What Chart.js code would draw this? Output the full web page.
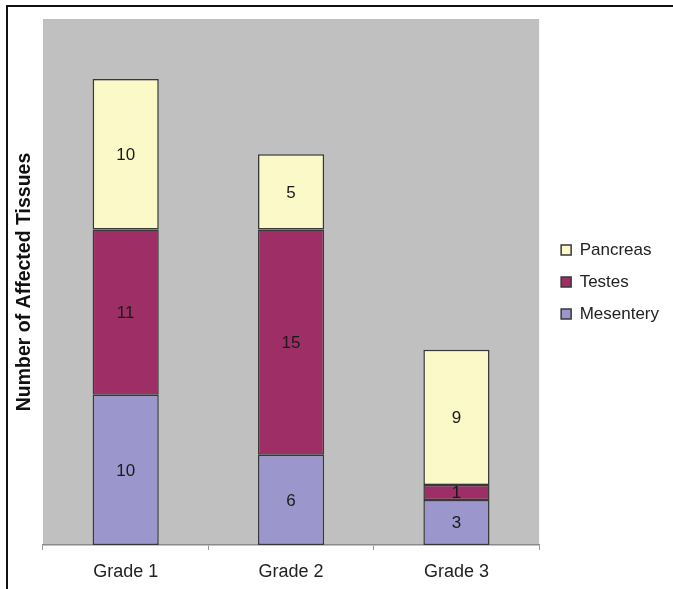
<!DOCTYPE html>
<html lang="en">
<head>
    <meta charset="UTF-8">
    <title>Number of Affected Tissues</title>
    <script src="https://cdn.jsdelivr.net/npm/chart.js"></script>
    <style>
        body {
            margin: 0;
            padding: 0;
            background: #fff;
        }
        .frame {
            position: absolute;
            left: 6px;
            top: 5px;
            width: 667px;
            height: 584px;
            border-left: 2px solid #111;
            border-top: 2px solid #111;
            box-sizing: border-box;
            pointer-events: none;
        }
        .wrap {
            position: relative;
            width: 673px;
            height: 589px;
        }
    </style>
</head>
<body>
    <div class="wrap">
        <canvas id="chart"></canvas>
        <div class="frame"></div>
    </div>

    <script>
        const grades = ['Grade 1', 'Grade 2', 'Grade 3'];
        const mesentery = [10, 6, 3];
        const testes = [11, 15, 1];
        const pancreas = [10, 5, 9];

        const fontFamily = "'Liberation Sans', Arial, sans-serif";

        // gray plot background
        const plotBg = {
            id: 'plotBg',
            beforeDraw(chart) {
                const a = chart.chartArea;
                const ctx = chart.ctx;
                ctx.save();
                ctx.fillStyle = '#c0c0c0';
                ctx.fillRect(a.left, a.top, a.right - a.left, a.bottom - a.top);
                ctx.restore();
            }
        };

        // numbers inside each segment
        const segLabels = {
            id: 'segLabels',
            afterDatasetsDraw(chart) {
                const ctx = chart.ctx;
                ctx.save();
                ctx.font = '17px ' + fontFamily;
                ctx.fillStyle = '#1a1a1a';
                ctx.textAlign = 'center';
                ctx.textBaseline = 'middle';
                chart.data.datasets.forEach((ds, i) => {
                    chart.getDatasetMeta(i).data.forEach((bar, j) => {
                        const y = (bar.y + bar.base) / 2;
                        ctx.fillText(String(ds.data[j]), bar.x, y + 1);
                    });
                });
                ctx.restore();
            }
        };

        new Chart(document.getElementById('chart'), {
            type: 'bar',
            data: {
                labels: grades,
                datasets: [
                    { label: 'Mesentery', data: mesentery, backgroundColor: '#9b97cc' },
                    { label: 'Testes', data: testes, backgroundColor: '#9e2f66' },
                    { label: 'Pancreas', data: pancreas, backgroundColor: '#fbf9c8' }
                ].map(d => Object.assign(d, {
                    borderColor: '#383838',
                    borderWidth: 1.5,
                    borderSkipped: false,
                    barPercentage: 0.4,
                    categoryPercentage: 1
                }))
            },
            options: {
                responsive: true,
                maintainAspectRatio: false,
                animation: false,
                layout: { padding: { left: 8, top: 19, bottom: 0, right: 4 } },
                plugins: {
                    tooltip: { enabled: false },
                    legend: {
                        position: 'right',
                        fullSize: false,
                        maxWidth: 127,
                        reverse: true,
                        labels: {
                            boxWidth: 10,
                            boxHeight: 10,
                            padding: 15,
                            color: '#222',
                            font: { family: fontFamily, size: 17 }
                        }
                    }
                },
                scales: {
                    x: {
                        stacked: true,
                        afterFit: (s) => { s.height = 44; },
                        grid: {
                            drawOnChartArea: false,
                            tickLength: 5,
                            color: '#999'
                        },
                        border: { color: '#8a8a8a', width: 1.5 },
                        ticks: {
                            padding: 11,
                            color: '#222',
                            font: { family: fontFamily, size: 18 }
                        }
                    },
                    y: {
                        stacked: true,
                        min: 0,
                        max: 35,
                        afterFit: (s) => { s.width = 35; },
                        grid: { display: false },
                        border: { display: false },
                        ticks: { display: false },
                        title: {
                            display: true,
                            text: 'Number of Affected Tissues',
                            color: '#111',
                            padding: { top: 5, bottom: 4 },
                            font: { family: fontFamily, size: 19.5, weight: 'bold' }
                        }
                    },
                    // empty spacer between the plot and the legend
                    gap: {
                        type: 'linear',
                        position: 'right',
                        afterFit: (s) => { s.width = 7; },
                        grid: { display: false },
                        border: { display: false },
                        ticks: { display: false }
                    }
                }
            },
            plugins: [plotBg, segLabels]
        });
    </script>
</body>
</html>
